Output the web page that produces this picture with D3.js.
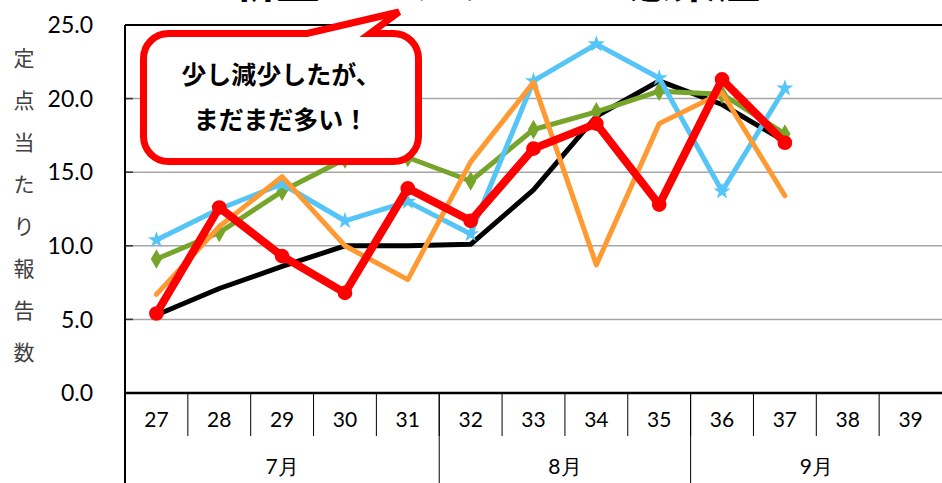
<!DOCTYPE html>
<html><head><meta charset="utf-8">
<script src="https://cdn.jsdelivr.net/npm/d3@7"></script>
<style>
html,body{margin:0;padding:0;background:#fff;overflow:hidden;}
svg{display:block;}
</style></head>
<body>
<svg id="chart" width="942" height="483"></svg>
<script>
const weeks = ["27","28","29","30","31","32","33","34","35","36","37","38","39"];
const monthLabels = ["7月","8月","9月"];
const monthSpans = [5,4,4];
const yTicks = [0,5,10,15,20,25];
const yTitle = "定点当たり報告数";
const titleText = "新型コロナウイルス感染症";
const calloutLines = ["少し減少したが、","まだまだ多い！"];

const seriesBlack  = [5.3, 7.1, 8.6, 10.0, 10.0, 10.1, 13.8, 18.8, 21.2, 19.6, 17.1];
const seriesGreen  = [9.1, 10.9, 13.7, 15.9, 16.0, 14.4, 17.9, 19.1, 20.5, 20.3, 17.6];
const seriesBlue   = [10.4, 12.5, 14.2, 11.7, 13.0, 10.8, 21.2, 23.7, 21.4, 13.7, 20.7];
const seriesOrange = [6.7, 11.3, 14.7, 10.0, 7.7, 15.7, 21.1, 8.7, 18.3, 20.4, 13.4];
const seriesRed    = [5.4, 12.6, 9.3, 6.8, 13.9, 11.7, 16.6, 18.3, 12.8, 21.3, 17.0];

const svg = d3.select("#chart");
const L = 125, R = 942, T = 25, B = 393;
const x = d3.scaleBand().domain(weeks).range([L, R]).padding(0);
const y = d3.scaleLinear().domain([0, 25]).range([B, T]);
const cx = i => x(weeks[i]) + x.bandwidth() / 2;
const numFont = "Lato, 'Open Sans', sans-serif";
const jpFont = "'Noto Sans CJK JP', sans-serif";

// title (mostly cut off at top, as in the reference)
svg.append("text").attr("x", 496).attr("y", -2)
  .attr("text-anchor", "middle").attr("font-family", jpFont)
  .attr("font-weight", 700).attr("font-size", 44).attr("fill", "#000")
  .text(titleText);

// gridlines
svg.append("g").selectAll("line").data(yTicks.filter(v => v > 0 && v < 25)).join("line")
  .attr("x1", L).attr("x2", R).attr("y1", d => y(d)).attr("y2", d => y(d))
  .attr("stroke", "#a6a6a6").attr("stroke-width", 1.5);
// inner tick marks
svg.append("g").selectAll("line").data(yTicks).join("line")
  .attr("x1", L).attr("x2", L + 8).attr("y1", d => y(d)).attr("y2", d => y(d))
  .attr("stroke", "#333").attr("stroke-width", 1.5);

// y tick labels
svg.append("g").selectAll("text").data(yTicks).join("text")
  .attr("x", 93).attr("y", d => y(d)).attr("dy", "0.36em")
  .attr("text-anchor", "end").attr("font-family", numFont).attr("font-size", 23)
  .attr("fill", "#000").text(d => d.toFixed(1));

// y title vertical
svg.append("g").selectAll("text").data(Array.from(yTitle)).join("text")
  .attr("x", 24).attr("y", (d, i) => 58 + i * 42).attr("dy", "0.38em")
  .attr("text-anchor", "middle").attr("font-family", jpFont).attr("font-size", 21)
  .attr("fill", "#404040").text(d => d);

// frame: top, left, bottom axis
svg.append("line").attr("x1", L).attr("x2", R).attr("y1", T).attr("y2", T).attr("stroke", "#000").attr("stroke-width", 2);
svg.append("line").attr("x1", L).attr("x2", L).attr("y1", T).attr("y2", 483).attr("stroke", "#000").attr("stroke-width", 2);
svg.append("line").attr("x1", L).attr("x2", R).attr("y1", B).attr("y2", B).attr("stroke", "#000").attr("stroke-width", 2.5);

// category dividers
svg.append("g").selectAll("line").data(weeks.slice(1)).join("line")
  .attr("x1", d => x(d)).attr("x2", d => x(d)).attr("y1", B).attr("y2", 436)
  .attr("stroke", "#000").attr("stroke-width", 1);
// week labels
svg.append("g").selectAll("text").data(weeks).join("text")
  .attr("x", d => x(d) + x.bandwidth() / 2).attr("y", 419).attr("dy", "0.36em")
  .attr("text-anchor", "middle").attr("font-family", numFont).attr("font-size", 21)
  .attr("fill", "#000").text(d => d);
// month dividers and labels
let acc = 0;
monthSpans.forEach((n, k) => {
  const x0 = x(weeks[acc]);
  const lastIdx = acc + n - 1;
  const x1 = x(weeks[lastIdx]) + x.bandwidth();
  if (k > 0) svg.append("line").attr("x1", x0).attr("x2", x0).attr("y1", B).attr("y2", 483)
    .attr("stroke", "#000").attr("stroke-width", 1);
  svg.append("text").attr("x", (x0 + x1) / 2).attr("y", 466).attr("dy", "0.38em")
    .attr("text-anchor", "middle").attr("font-family", numFont).attr("font-size", 21)
    .attr("fill", "#000").text(monthLabels[k]);
  acc += n;
});

// lines
const line = d3.line().x((d, i) => cx(i)).y(d => y(d));
function drawSeries(data, color, width, marker) {
  const g = svg.append("g");
  g.append("path").datum(data).attr("d", line).attr("fill", "none")
    .attr("stroke", color).attr("stroke-width", width)
    .attr("stroke-linejoin", "round").attr("stroke-linecap", "round");
  if (marker) {
    g.selectAll("path.m").data(data).join("path").attr("class", "m")
      .attr("transform", (d, i) => `translate(${cx(i)},${y(d)})`)
      .attr("d", d3.symbol().type(marker.type).size(marker.size))
      .attr("fill", color);
  }
}
drawSeries(seriesBlack, "#000000", 5, null);
drawSeries(seriesGreen, "#77a52c", 5, {type: d3.symbolDiamond, size: 110});
drawSeries(seriesBlue, "#55c4f6", 5, {type: d3.symbolStar, size: 90});
drawSeries(seriesOrange, "#ff9a33", 5, null);
drawSeries(seriesRed, "#ff0000", 8, {type: d3.symbolCircle, size: 170});

// callout
const bx0 = 143.5, bx1 = 418.5, by0 = 33.5, by1 = 161.5, r = 25;
const p = d3.path();
p.moveTo(bx0 + r, by0);
p.lineTo(307, by0);
p.lineTo(399, 12);
p.lineTo(370, by0);
p.lineTo(bx1 - r, by0);
p.arcTo(bx1, by0, bx1, by0 + r, r);
p.lineTo(bx1, by1 - r);
p.arcTo(bx1, by1, bx1 - r, by1, r);
p.lineTo(bx0 + r, by1);
p.arcTo(bx0, by1, bx0, by1 - r, r);
p.lineTo(bx0, by0 + r);
p.arcTo(bx0, by0, bx0 + r, by0, r);
p.closePath();
svg.append("path").attr("d", p.toString()).attr("fill", "#fff")
  .attr("stroke", "#ff0000").attr("stroke-width", 7).attr("stroke-linejoin", "miter");
svg.append("g").selectAll("text").data(calloutLines).join("text")
  .attr("x", 281).attr("y", (d, i) => 74 + i * 45).attr("dy", "0.38em")
  .attr("text-anchor", "middle").attr("font-family", jpFont).attr("font-weight", 700)
  .attr("font-size", 25).attr("fill", "#000").text(d => d);
</script>
</body></html>
